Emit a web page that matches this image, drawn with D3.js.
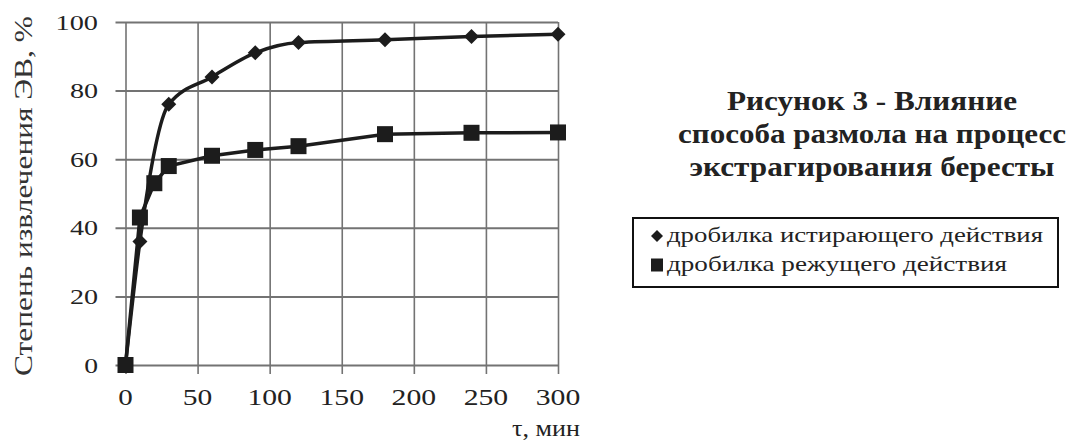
<!DOCTYPE html>
<html><head><meta charset="utf-8">
<script src="https://cdn.jsdelivr.net/npm/d3@7"></script>
<style>
html,body{margin:0;padding:0;background:#fff;}
svg{display:block;}
text{font-family:"Liberation Serif","Times New Roman",serif;}
</style></head>
<body>
<svg id="c" width="1079" height="443"></svg>
<script>
// ---- data ----
const timesA = [0, 10, 30, 60, 90, 120, 180, 240, 300];
const valuesA = [0, 36, 76, 84, 91, 94, 94.8, 95.8, 96.4];
const timesB = [0, 10, 20, 30, 60, 90, 120, 180, 240, 300];
const valuesB = [0, 43, 53, 58, 61, 62.7, 63.8, 67.3, 67.7, 67.8];
const seriesNames = ["дробилка истирающего действия", "дробилка режущего действия"];
const xTicks = [0, 50, 100, 150, 200, 250, 300];
const yTicks = [0, 20, 40, 60, 80, 100];
const titleLines = ["Рисунок 3 - Влияние", "способа размола на процесс", "экстрагирования бересты"];
const xTitle = "τ, мин";
const yTitle = "Степень извлечения ЭВ, %";

const svg = d3.select("#c");
const x = d3.scaleLinear().domain([0, 300]).range([125.5, 558]);
const y = d3.scaleLinear().domain([0, 100]).range([365, 22]);
const grid = "#737373";

// horizontal gridlines (y axis with ticks extending left)
const yAxis = d3.axisLeft(y).tickValues(yTicks).tickSize(-(558 - 115.5)).tickFormat("");
const gy = svg.append("g").attr("transform", "translate(115.5,0)").call(yAxis);
gy.select(".domain").remove();
gy.selectAll(".tick line").attr("stroke", grid).attr("stroke-width", 2)
  .attr("x1", 0).attr("x2", 558 - 115.5);

// vertical gridlines with ticks below
const xAxis = d3.axisBottom(x).tickValues(xTicks).tickSize(0).tickFormat("");
const gx = svg.append("g").call(xAxis);
gx.select(".domain").remove();
gx.selectAll(".tick line").attr("stroke", grid).attr("stroke-width", 1.6)
  .attr("y1", 22).attr("y2", 374);

// y tick labels
svg.append("g").selectAll("text").data(yTicks).join("text")
  .attr("x", 98).attr("y", d => y(d))
  .attr("text-anchor", "end").attr("dominant-baseline", "central")
  .attr("font-size", 22).attr("fill", "#222")
  .attr("textLength", d => String(d).length * 14.3 - 0.5)
  .attr("lengthAdjust", "spacingAndGlyphs")
  .text(d => d);

// x tick labels
svg.append("g").selectAll("text").data(xTicks).join("text")
  .attr("x", d => x(d)).attr("y", 405)
  .attr("text-anchor", "middle")
  .attr("font-size", 24).attr("fill", "#222")
  .attr("textLength", d => String(d).length * 15 - 0.5)
  .attr("lengthAdjust", "spacingAndGlyphs")
  .text(d => d);

// axis titles
svg.append("text").attr("x", 580).attr("y", 436).attr("text-anchor", "end")
  .attr("font-size", 23).attr("fill", "#222")
  .attr("textLength", 68).attr("lengthAdjust", "spacingAndGlyphs").text(xTitle);
svg.append("text").attr("transform", "translate(32,196) rotate(-90)")
  .attr("text-anchor", "middle").attr("font-size", 25).attr("fill", "#333")
  .attr("textLength", 360).attr("lengthAdjust", "spacingAndGlyphs").text(yTitle);

// lines
const ptsA = timesA.map((t, i) => [t, valuesA[i]]);
const ptsB = timesB.map((t, i) => [t, valuesB[i]]);
const lineA = d3.line().x(d => x(d[0])).y(d => y(d[1])).curve(d3.curveMonotoneX);
const lineB = d3.line().x(d => x(d[0])).y(d => y(d[1]));
const ink = "#1c1c1c";
svg.append("path").attr("d", lineB(ptsB)).attr("fill", "none").attr("stroke", ink).attr("stroke-width", 3.5);
svg.append("path").attr("d", lineA(ptsA)).attr("fill", "none").attr("stroke", ink).attr("stroke-width", 3.5);

// markers
const diamond = r => `M0,${-r}L${r},0L0,${r}L${-r},0Z`;
svg.append("g").selectAll("path").data(ptsA).join("path")
  .attr("transform", d => `translate(${x(d[0])},${y(d[1])})`)
  .attr("d", diamond(7.5)).attr("fill", ink);
svg.append("g").selectAll("rect").data(ptsB).join("rect")
  .attr("x", d => x(d[0]) - 8).attr("y", d => y(d[1]) - 8)
  .attr("width", 16).attr("height", 16).attr("fill", ink);

// title
const titleY = [110, 143, 176];
const titleW = [290, 388, 365];
svg.append("g").selectAll("text").data(titleLines).join("text")
  .attr("x", 872).attr("y", (d, i) => titleY[i])
  .attr("text-anchor", "middle").attr("font-size", 27).attr("font-weight", "bold").attr("fill", "#222")
  .attr("textLength", (d, i) => titleW[i]).attr("lengthAdjust", "spacingAndGlyphs")
  .text(d => d);

// legend
svg.append("rect").attr("x", 633).attr("y", 218).attr("width", 425).attr("height", 69)
  .attr("fill", "#fff").attr("stroke", "#111").attr("stroke-width", 2);
const legY = [236, 265];
const legW = [376, 340];
svg.append("path").attr("transform", `translate(657,${legY[0]})`).attr("d", diamond(6)).attr("fill", ink);
svg.append("rect").attr("x", 651).attr("y", legY[1] - 6.5).attr("width", 12).attr("height", 13).attr("fill", ink);
svg.append("g").selectAll("text").data(seriesNames).join("text")
  .attr("x", 667).attr("y", (d, i) => legY[i] + 6)
  .attr("font-size", 22).attr("fill", "#222")
  .attr("textLength", (d, i) => legW[i]).attr("lengthAdjust", "spacingAndGlyphs")
  .text(d => d);
</script>
</body></html>
